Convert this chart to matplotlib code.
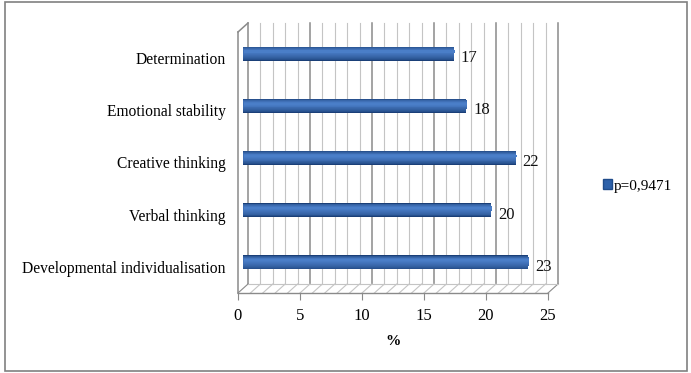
import matplotlib
matplotlib.use("Agg")
import matplotlib.pyplot as plt
from matplotlib.patches import Rectangle, Patch
import numpy as np

categories = ["Developmental individualisation", "Verbal thinking",
              "Creative thinking", "Emotional stability", "Determination"]
values = [23, 20, 22, 18, 17]
series_name = "p=0,9471"
x_ticks = [0, 5, 10, 15, 20, 25]
x_label = "%"

W, H = 691, 373
fig = plt.figure(figsize=(W / 100, H / 100), dpi=100)
plt.rcParams['font.family'] = ['Liberation Serif', 'DejaVu Serif']

# front plane in pixels
x0p, x1p = 238, 548
ytop, ybot = 32, 293
ax = fig.add_axes([x0p / W, (H - ybot) / H, (x1p - x0p) / W, (ybot - ytop) / H])
xmin, xmax = 0, 25
ymin, ymax = -0.5, len(categories) - 0.5
ax.set_xlim(xmin, xmax)
ax.set_ylim(ymin, ymax)
for s in ax.spines.values():
    s.set_visible(False)

# depth offsets in data units
dx = 10 / ((x1p - x0p) / (xmax - xmin))
dy = 9 / ((ybot - ytop) / (ymax - ymin))

minor_c = "#c4c4c4"
major_c = "#8a8a8a"
for xv in range(xmin, xmax + 1):
    c = major_c if xv % 5 == 0 else minor_c
    lw = 1.1 if xv % 5 == 0 else 0.8
    ax.plot([xv + dx, xv + dx], [ymin + dy, ymax + dy], color=c, lw=lw, clip_on=False, zorder=1)
    ax.plot([xv, xv + dx], [ymin, ymin + dy], color=minor_c if xv not in (0, 25) else major_c,
            lw=0.8, clip_on=False, zorder=1)
ax.plot([xmin, xmax], [ymin, ymin], color=major_c, lw=1.0, clip_on=False, zorder=1)
ax.plot([xmin + dx, xmax + dx], [ymin + dy, ymin + dy], color=minor_c, lw=0.8, clip_on=False, zorder=1)
ax.plot([xmin, xmin], [ymin, ymax], color=major_c, lw=1.1, clip_on=False, zorder=1)
ax.plot([xmin, xmin + dx], [ymax, ymax + dy], color=major_c, lw=1.1, clip_on=False, zorder=1)

# bars (cylinder look via layered gradient)
ypos = np.arange(len(categories))
bh = 0.27
dark = np.array([0x1a, 0x3f, 0x78]) / 255
light = np.array([0x4a, 0x7e, 0xc8]) / 255
nl = 10
for i in range(nl):
    t = i / (nl - 1)
    frac = 1 - 0.85 * t
    col = dark + (light - dark) * (t ** 0.6)
    ax.barh(ypos + dy / 2 + 0.04 * t, values, left=dx / 2 + 0.06 * t, height=bh * frac,
            color=col, zorder=3 + i * 0.01, clip_on=False, linewidth=0)

for yv, v in zip(ypos, values):
    ax.annotate(str(v), xy=(dx / 2 + v, yv), xytext=(5, 0), textcoords="offset points",
                va="center", ha="left", fontsize=12, color="#111111", zorder=6, annotation_clip=False)

ax.set_yticks(ypos)
ax.set_yticklabels(categories, fontsize=11.2)
ax.tick_params(axis="y", length=0, pad=9)
ax.set_xticks(x_ticks)
ax.set_xticklabels([str(t) for t in x_ticks], fontsize=12)
ax.tick_params(axis="x", length=5, color=major_c, direction="out", pad=6)
ax.set_xlabel(x_label, fontsize=11, fontweight="bold", labelpad=8)

fig.legend(handles=[Patch(facecolor="#2d61aa", edgecolor="#1f4c8a")], labels=[series_name],
           loc="center left", bbox_to_anchor=(589 / W, 1 - 186 / H), frameon=False,
           handlelength=0.6, handleheight=0.6, handletextpad=0.15, fontsize=11)

fig.add_artist(Rectangle((5.5 / W, (H - 370.5) / H), 681 / W, 369 / H, transform=fig.transFigure,
                         fill=False, edgecolor="#808080", lw=1.2))

fig.savefig("out.png", dpi=100)
